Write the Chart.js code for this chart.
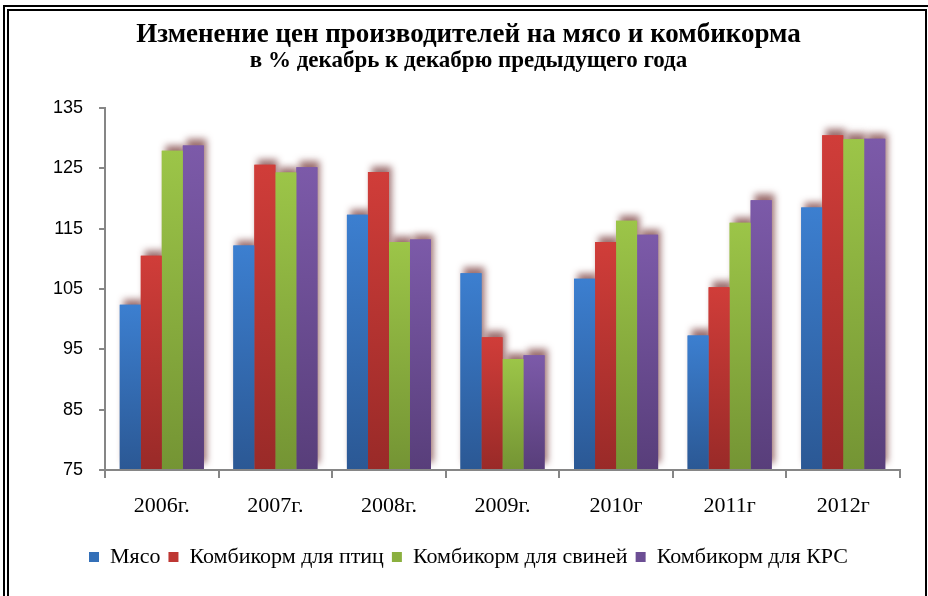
<!DOCTYPE html>
<html><head><meta charset="utf-8">
<script src="https://cdn.jsdelivr.net/npm/chart.js@4"></script>
<style>
html,body{margin:0;padding:0;background:#fff;}
#wrap{position:relative;width:928px;height:596px;overflow:hidden;background:#fff;}
#f1{position:absolute;left:3px;top:5px;width:1000px;height:1000px;border-left:2px solid #000;border-top:2px solid #000;}
#f2{position:absolute;left:7px;top:9px;width:916px;height:1000px;border-left:2px solid #000;border-top:2px solid #000;border-right:2px solid #000;}
canvas{position:absolute;left:0;top:0;}
</style></head>
<body>
<div id="wrap"><div id="f1"></div><div id="f2"></div><canvas id="c" width="928" height="596"></canvas></div>
<script>
const categories = ['2006г.', '2007г.', '2008г.', '2009г.', '2010г', '2011г', '2012г'];
const seriesNames = ['Мясо', 'Комбикорм для птиц', 'Комбикорм для свиней', 'Комбикорм для КРС'];
const meat    = [102.4, 112.2, 117.3, 107.6, 106.7,  97.3, 118.5];
const poultry = [110.5, 125.6, 124.4,  97.0, 112.8, 105.3, 130.5];
const pigs    = [127.9, 124.3, 112.8,  93.4, 116.3, 116.0, 129.8];
const cattle  = [128.8, 125.2, 113.2,  94.0, 114.0, 119.7, 129.9];
const yMin = 75, yMax = 135, yStep = 10;
const titleText = 'Изменение цен производителей на мясо и комбикорма';
const subtitleText = 'в % декабрь к декабрю предыдущего года';

const colorsTop = ['#3C7FD0', '#D03D39', '#9CC548', '#7C5AA9'];
const colorsBottom = ['#2B5894', '#992A28', '#749434', '#583E7A'];
const colorsMid = ['#3470B8', '#BE3733', '#8BB03F', '#6C4E94'];

function grad(i) {
  return (ctx) => {
    const chart = ctx.chart;
    const ys = chart.scales && chart.scales.y;
    if (!ys || ctx.type !== 'data' || !chart.chartArea) return colorsMid[i];
    const v = ctx.parsed ? ctx.parsed.y : ctx.raw;
    const y0 = ys.getPixelForValue(v), y1 = ys.getPixelForValue(yMin);
    if (!isFinite(y0) || !isFinite(y1) || y1 - y0 < 1) return colorsMid[i];
    const g = chart.ctx.createLinearGradient(0, y0, 0, y1);
    g.addColorStop(0, colorsTop[i]);
    g.addColorStop(1, colorsBottom[i]);
    return g;
  };
}

const glow = {
  id: 'glow',
  beforeDatasetsDraw(chart) {
    const c = chart.ctx;
    const a = chart.chartArea;
    c.save();
    c.beginPath();
    c.rect(a.left + 2, a.top - 20, a.right - a.left, a.bottom - a.top + 19);
    c.clip();
    c.shadowColor = 'rgba(145,95,95,0.9)';
    c.shadowBlur = 7;
    c.shadowOffsetX = 3;
    c.shadowOffsetY = -6;
    chart.data.datasets.forEach((d, i) => {
      chart.getDatasetMeta(i).data.forEach(el => el.draw(c));
    });
    c.restore();
  }
};

const values = [meat, poultry, pigs, cattle];
new Chart(document.getElementById('c'), {
  type: 'bar',
  data: {
    labels: categories,
    datasets: values.map((arr, i) => ({
      label: seriesNames[i],
      data: arr,
      base: yMin,
      backgroundColor: grad(i),
      borderWidth: 0,
      categoryPercentage: 0.74,
      barPercentage: 1.0
    }))
  },
  plugins: [glow],
  options: {
    responsive: false,
    animation: false,
    devicePixelRatio: 1,
    layout: { padding: { left: 37, right: 28, top: 0, bottom: 18 } },
    plugins: {
      tooltip: { enabled: false },
      title: {
        display: true, text: titleText, color: '#000',
        font: { family: 'Liberation Serif', size: 27, weight: 'bold', lineHeight: 1.0 },
        padding: { top: 22, bottom: 0 }
      },
      subtitle: {
        display: true, text: subtitleText, color: '#000',
        font: { family: 'Liberation Serif', size: 23, weight: 'bold', lineHeight: 1.0 },
        padding: { top: 1, bottom: 35 }
      },
      legend: {
        position: 'bottom',
        labels: {
          color: '#000',
          font: { family: 'Liberation Serif', size: 22 },
          boxWidth: 10, boxHeight: 10, padding: 8,
          generateLabels: (chart) => chart.data.datasets.map((d, i) => ({
            text: d.label, fillStyle: colorsMid[i], strokeStyle: colorsMid[i], lineWidth: 0,
            hidden: false, datasetIndex: i, fontColor: '#000'
          }))
        }
      }
    },
    scales: {
      x: {
        afterFit: (s) => { s.height = 68; },
        grid: { display: true, drawOnChartArea: false, drawTicks: true, tickLength: 8, color: '#868686', lineWidth: 2, offset: true },
        border: { display: true, color: '#868686', width: 2 },
        ticks: { color: '#000', font: { family: 'Liberation Serif', size: 22 }, padding: 15, maxRotation: 0 }
      },
      y: {
        min: yMin, max: yMax,
        grid: { display: true, drawOnChartArea: false, drawTicks: true, tickLength: 6, color: '#868686', lineWidth: 2 },
        border: { display: true, color: '#868686', width: 2 },
        ticks: { stepSize: yStep, color: '#000', font: { family: 'Liberation Sans', size: 18 }, padding: 16 }
      }
    }
  }
});
</script>
</body></html>
